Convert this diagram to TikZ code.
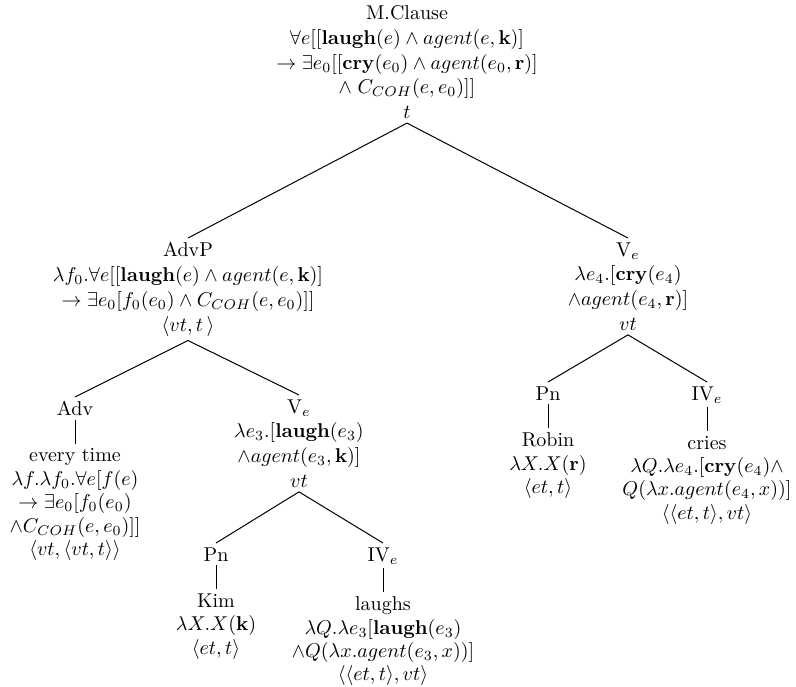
\documentclass[tikz,border=0pt]{standalone}
\usepackage{amsmath}
\usepackage{amssymb}
\usepackage{tikz}
\usetikzlibrary{positioning}
\tikzset{
  tn/.style={align=center, inner sep=2pt, anchor=north, font=\fontsize{10}{12.4}\selectfont},
  word/.style={tn, font=\fontsize{10}{11.7}\selectfont},
  branch/.style={line width=0.5pt}
}

\begin{document}
\begin{tikzpicture}[x=0.5pt, y=-0.5pt, node distance=12pt]
\useasboundingbox (0,0) rectangle (796,686);
% top and first level
\node[tn] (root) at (407,1) {M.Clause\\ $\forall e[[\mathbf{laugh}(e) \wedge agent(e,\mathbf{k})]$\\ $\rightarrow \exists e_0[[\mathbf{cry}(e_0) \wedge agent(e_0,\mathbf{r})]$\\ $\wedge\; C_{COH}(e,e_0)]]$\\ $t$};
\node[tn] (advp) at (188,238) {AdvP\\ $\lambda f_0.\forall e[[\mathbf{laugh}(e) \wedge agent(e,\mathbf{k})]$\\ $\rightarrow \exists e_0[f_0(e_0) \wedge C_{COH}(e,e_0)]]$\\ $\langle vt, t\,\rangle$};
\node[tn] (vr) at (628,238) {V$_e$\\ $\lambda e_4.[\mathbf{cry}(e_4)$\\ $\wedge agent(e_4,\mathbf{r})]$\\ $vt$};
% under AdvP
\node[tn] (adv) at (75,397) {Adv};
\node[word, below=of adv] (advw) {every time\\ $\lambda f.\lambda f_0.\forall e[f(e)$\\ $\rightarrow \exists e_0[f_0(e_0)$\\ $\wedge C_{COH}(e,e_0)]]$\\ $\langle vt,\langle vt,t\rangle\rangle$};
\node[tn] (vl) at (299,395) {V$_e$\\ $\lambda e_3.[\mathbf{laugh}(e_3)$\\ $\wedge agent(e_3,\mathbf{k})]$\\ $vt$};
\node[tn] (pnl) at (216,543) {Pn};
\node[word, below=of pnl] (kim) {Kim\\ $\lambda X.X(\mathbf{k})$\\ $\langle et,t\rangle$};
\node[tn] (ivl) at (383,543) {IV$_e$};
\node[word, below=of ivl] (laughs) {laughs\\ $\lambda Q.\lambda e_3[\mathbf{laugh}(e_3)$\\ $\wedge Q(\lambda x.agent(e_3,x))]$\\ $\langle\langle et,t\rangle,vt\rangle$};
% under right V_e
\node[tn] (pnr) at (548,382) {Pn};
\node[word, below=of pnr] (robin) {Robin\\ $\lambda X.X(\mathbf{r})$\\ $\langle et,t\rangle$};
\node[tn] (ivr) at (707,382) {IV$_e$};
\node[word, below=of ivr] (cries) {cries\\ $\lambda Q.\lambda e_4.[\mathbf{cry}(e_4)\wedge$\\ $Q(\lambda x.agent(e_4,x))]$\\ $\langle\langle et,t\rangle,vt\rangle$};
% branches
\draw[branch] (advp.north) -- (root.south) -- (vr.north);
\draw[branch] (adv.north) -- (advp.south) -- (vl.north);
\draw[branch] (pnl.north) -- (vl.south) -- (ivl.north);
\draw[branch] (pnr.north) -- (vr.south) -- (ivr.north);
\draw[branch] (adv) -- (advw);
\draw[branch] (pnl) -- (kim);
\draw[branch] (ivl) -- (laughs);
\draw[branch] (pnr) -- (robin);
\draw[branch] (ivr) -- (cries);
\end{tikzpicture}
\end{document}
